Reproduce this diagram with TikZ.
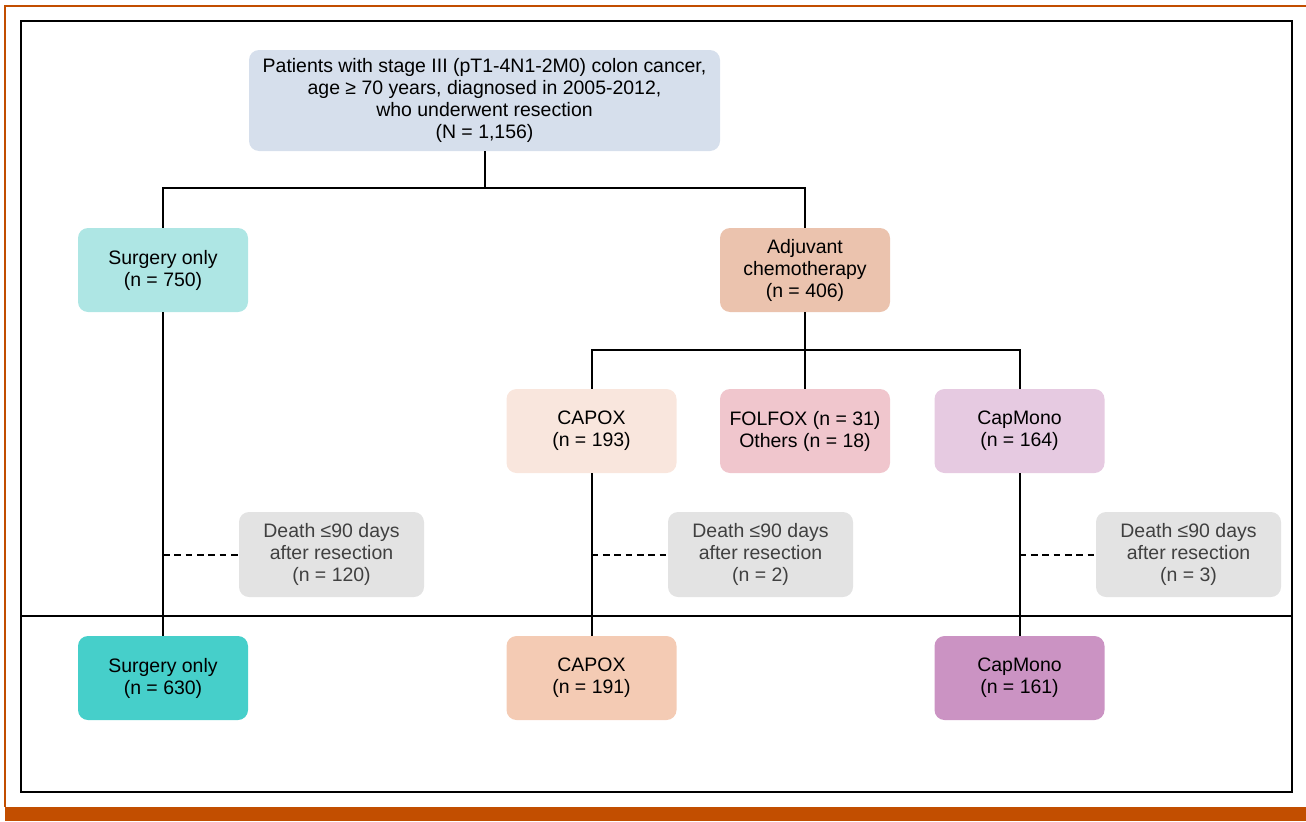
\documentclass[tikz,border=0pt]{standalone}
\usepackage{fontspec}
\setmainfont{Liberation Sans}
\usetikzlibrary{positioning}
\definecolor{frameorange}{HTML}{C24E00}
\definecolor{topblue}{HTML}{D6DFEC}
\definecolor{surglight}{HTML}{AEE6E4}
\definecolor{surgdark}{HTML}{46CFCA}
\definecolor{adjfill}{HTML}{EBC3AE}
\definecolor{capoxlight}{HTML}{F9E6DD}
\definecolor{capoxdark}{HTML}{F4CBB4}
\definecolor{folfoxfill}{HTML}{F0C6CD}
\definecolor{capmonolight}{HTML}{E6CAE1}
\definecolor{capmonodark}{HTML}{CB93C3}
\definecolor{deathgray}{HTML}{E3E3E3}
\definecolor{deathtext}{HTML}{404040}

\begin{document}
\begin{tikzpicture}[x=0.75pt, y=-0.75pt,
    box/.style={rounded corners=7.5pt, align=center, inner sep=0pt,
        minimum width=127.5pt, minimum height=63pt,
        font=\fontsize{14.6}{16.5}\selectfont},
    deathbox/.style={box, fill=deathgray, text=deathtext,
        minimum width=138.75pt, minimum height=63.75pt},
    link/.style={line width=1.5pt},
    dashlink/.style={line width=1.5pt, dash pattern=on 5pt off 3.5pt}]
    \useasboundingbox (0,0) rectangle (1306,821);
    % page frame
    \draw[frameorange, line width=1.2pt] (1306,6) -- (5,6) -- (5,807);
    \fill[frameorange] (5,807) rectangle (1306,821);
    \draw[line width=1.6pt] (21,21) rectangle (1292,792);
    \draw[line width=1.1pt] (21,616) -- (1292,616);

    % boxes
    \node[box, fill=topblue, minimum width=353.25pt, minimum height=75.75pt] (all) at (484.5,100.5)
        {Patients with stage III (pT1-4N1-2M0) colon cancer,\\age ≥ 70 years, diagnosed in 2005-2012,\\who underwent resection\\(N = 1,156)};
    \node[box, fill=surglight] (surg) at (163,270) {Surgery only\\(n = 750)};
    \node[box, fill=adjfill] (adj) at (805,270) {Adjuvant\\chemotherapy\\(n = 406)};
    \node[box, fill=capoxlight] (capox) at (591.5,431) {CAPOX\\(n = 193)};
    \node[box, fill=folfoxfill] (folfox) at (805,431) {FOLFOX (n = 31)\\Others (n = 18)};
    \node[box, fill=capmonolight] (capmono) at (1019.5,431) {CapMono\\(n = 164)};
    \node[deathbox] (dsurg) at (331.5,554.5) {Death ≤90 days\\after resection\\(n = 120)};
    \node[deathbox] (dcapox) at (760.5,554.5) {Death ≤90 days\\after resection\\(n = 2)};
    \node[deathbox] (dcapmono) at (1188.5,554.5) {Death ≤90 days\\after resection\\(n = 3)};
    \node[box, fill=surgdark] (surgB) at (163,678) {Surgery only\\(n = 630)};
    \node[box, fill=capoxdark] (capoxB) at (591.5,678) {CAPOX\\(n = 191)};
    \node[box, fill=capmonodark] (capmonoB) at (1019.5,678) {CapMono\\(n = 161)};

    % connectors
    \draw[link] (all.south) -- ++(0,37) coordinate (split1) -| (surg.north);
    \draw[link] (split1) -| (adj.north);
    \draw[link] (adj.south) -- ++(0,38) coordinate (split2) -| (capox.north);
    \draw[link] (split2) -| (capmono.north);
    \draw[link] (split2) -- (folfox.north);
    \draw[link] (surg.south) -- (surgB.north);
    \draw[link] (capox.south) -- (capoxB.north);
    \draw[link] (capmono.south) -- (capmonoB.north);
    \draw[dashlink] (surg.south |- dsurg.west) -- (dsurg.west);
    \draw[dashlink] (capox.south |- dcapox.west) -- (dcapox.west);
    \draw[dashlink] (capmono.south |- dcapmono.west) -- (dcapmono.west);
\end{tikzpicture}
\end{document}
